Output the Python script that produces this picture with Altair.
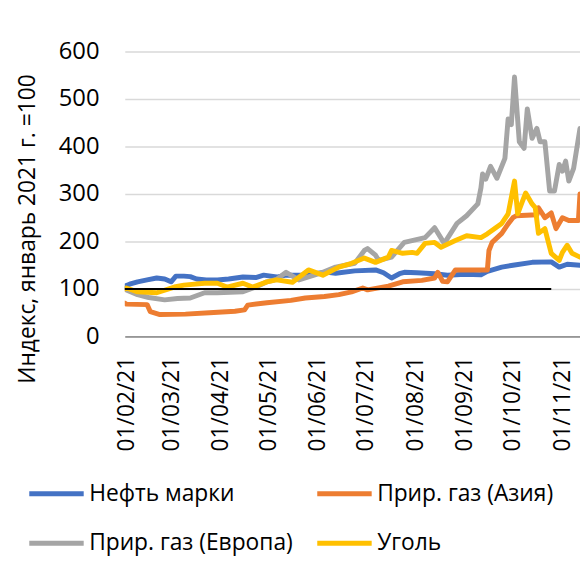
import altair as alt
import pandas as pd

series_names = ["Нефть марки", "Прир. газ (Азия)", "Прир. газ (Европа)", "Уголь"]
series_colors = ["#4472C4", "#ED7D31", "#A5A5A5", "#FFC000"]

oil_dates = ["2021-01-31", "2021-02-03", "2021-02-08", "2021-02-14", "2021-02-20", "2021-02-25",
             "2021-03-01", "2021-03-04", "2021-03-09", "2021-03-13", "2021-03-17", "2021-03-23",
             "2021-03-30", "2021-04-06", "2021-04-15", "2021-04-23", "2021-04-28", "2021-05-06",
             "2021-05-12", "2021-05-24", "2021-06-01", "2021-06-07", "2021-06-12", "2021-06-24",
             "2021-07-07", "2021-07-12", "2021-07-17", "2021-07-22", "2021-07-25", "2021-08-02",
             "2021-08-13", "2021-08-21", "2021-09-01", "2021-09-11", "2021-09-15", "2021-09-24",
             "2021-10-01", "2021-10-13", "2021-10-25", "2021-10-30", "2021-11-04", "2021-11-12"]
oil_values = [106, 110, 115, 119, 123, 121,
              115, 127, 127, 126, 121, 119,
              119, 121, 125, 124, 129, 125,
              129, 129, 133, 135, 133, 138,
              140, 134, 123, 132, 135, 134,
              132, 129, 131, 130, 137, 146,
              150, 156, 157, 146, 152, 150]

asia_dates = ["2021-01-31", "2021-02-01", "2021-02-14", "2021-02-16", "2021-02-22", "2021-03-10",
              "2021-03-25", "2021-04-10", "2021-04-16", "2021-04-18", "2021-04-30", "2021-05-15",
              "2021-05-24", "2021-06-05", "2021-06-14", "2021-06-22", "2021-06-29", "2021-07-02",
              "2021-07-15", "2021-07-24", "2021-08-05", "2021-08-13", "2021-08-15", "2021-08-18",
              "2021-08-21", "2021-08-26", "2021-09-15", "2021-09-16", "2021-09-18", "2021-09-24",
              "2021-09-28", "2021-10-01", "2021-10-03", "2021-10-16", "2021-10-17", "2021-10-21",
              "2021-10-25", "2021-10-28", "2021-11-01", "2021-11-05", "2021-11-11", "2021-11-12"]
asia_values = [70, 68, 67, 52, 46, 47,
               50, 53, 56, 66, 71, 76,
               81, 84, 88, 94, 102, 98,
               106, 115, 118, 123, 135, 116,
               115, 140, 140, 181, 198, 217,
               237, 250, 254, 256, 271, 250,
               260, 227, 250, 244, 244, 300]

europe_dates = ["2021-01-31", "2021-02-01", "2021-02-08", "2021-02-15", "2021-02-25", "2021-03-05",
                "2021-03-13", "2021-03-22", "2021-03-30", "2021-04-15", "2021-04-23", "2021-04-30",
                "2021-05-06", "2021-05-12", "2021-05-20", "2021-06-04", "2021-06-12", "2021-06-24",
                "2021-06-30", "2021-07-02", "2021-07-07", "2021-07-09", "2021-07-17", "2021-07-25",
                "2021-08-07", "2021-08-13", "2021-08-19", "2021-08-27", "2021-09-02", "2021-09-09",
                "2021-09-11", "2021-09-12", "2021-09-14", "2021-09-17", "2021-09-21", "2021-09-26",
                "2021-09-28", "2021-09-30", "2021-10-02", "2021-10-05", "2021-10-08", "2021-10-10",
                "2021-10-13", "2021-10-16", "2021-10-18", "2021-10-21", "2021-10-24", "2021-10-27",
                "2021-10-30", "2021-11-01", "2021-11-03", "2021-11-05", "2021-11-08", "2021-11-12"]
europe_values = [100, 98, 88, 82, 77, 80,
                 81, 92, 92, 94, 104, 115,
                 120, 135, 119, 135, 146, 154,
                 181, 185, 171, 160, 167, 198,
                 208, 229, 196, 238, 254, 279,
                 313, 342, 331, 358, 333, 375,
                 458, 446, 546, 410, 396, 479,
                 417, 438, 410, 410, 306, 306,
                 362, 348, 369, 327, 354, 438]

coal_dates = ["2021-01-31", "2021-02-01", "2021-02-08", "2021-02-20", "2021-03-03", "2021-03-09",
              "2021-03-22", "2021-03-30", "2021-04-05", "2021-04-15", "2021-04-21", "2021-04-30",
              "2021-05-06", "2021-05-16", "2021-05-26", "2021-06-04", "2021-06-14", "2021-06-22",
              "2021-06-30", "2021-07-07", "2021-07-15", "2021-07-17", "2021-07-24", "2021-07-30",
              "2021-08-02", "2021-08-07", "2021-08-13", "2021-08-17", "2021-08-26", "2021-09-02",
              "2021-09-11", "2021-09-15", "2021-09-24", "2021-09-28", "2021-10-02", "2021-10-04",
              "2021-10-07", "2021-10-09", "2021-10-13", "2021-10-15", "2021-10-17", "2021-10-21",
              "2021-10-25", "2021-10-30", "2021-11-01", "2021-11-04", "2021-11-07", "2021-11-12"]
coal_values = [100, 102, 94, 92, 104, 108,
               112, 112, 104, 112, 104, 115,
               119, 114, 140, 129, 146, 154,
               165, 156, 167, 181, 175, 177,
               175, 196, 198, 188, 202, 212,
               208, 216, 238, 258, 327, 258,
               285, 302, 279, 271, 217, 227,
               175, 160, 177, 192, 175, 167]

ref_start = ["2021-01-31"]
ref_end = ["2021-10-25"]
ref_value = [100]

month_ticks = [alt.DateTime(year=2021, month=m, date=1, utc=True) for m in range(2, 12)]
y_ticks = [0, 100, 200, 300, 400, 500, 600]

FONT = "Open Sans"

x_scale = alt.Scale(type="utc",
                    domain=[alt.DateTime(year=2021, month=1, date=31, utc=True),
                            alt.DateTime(year=2021, month=11, date=12, utc=True)])
y_scale = alt.Scale(domain=[0, 600])

x_axis = alt.Axis(values=month_ticks, format="%d/%m/%y", title=None, grid=False,
                  ticks=False, domain=True, domainColor="#595959", domainWidth=1,
                  labelAngle=270, labelAlign="right", labelBaseline="middle",
                  labelPadding=20, labelFontSize=23, labelColor="#000000", labelFont=FONT)
y_axis = alt.Axis(values=y_ticks, title="Индекс, январь 2021 г. =100", grid=True,
                  gridColor="#D9D9D9", gridWidth=1.5, domain=False, ticks=False,
                  labelFontSize=24, labelPadding=26, labelColor="#000000", labelFont=FONT,
                  titleFontSize=23, titleFont=FONT, titleFontWeight="normal", titleColor="#000000",
                  titleAngle=270, titleX=-98, titleY=179, titleAlign="center",
                  titleBaseline="middle")

legend = alt.Legend(title=None, orient="none", direction="horizontal", legendX=-99, legendY=417,
                    columns=2, symbolType="stroke", symbolSize=3025, symbolStrokeWidth=5,
                    labelFontSize=23, labelFont=FONT, labelColor="#000000", labelLimit=400,
                    columnPadding=14, rowPadding=8, labelOffset=3, padding=0)

color = alt.Color("series:N", scale=alt.Scale(domain=series_names, range=series_colors),
                  legend=legend)

layers = []
for name, d, v in [(series_names[0], oil_dates, oil_values),
                   (series_names[1], asia_dates, asia_values),
                   (series_names[2], europe_dates, europe_values),
                   (series_names[3], coal_dates, coal_values)]:
    df = pd.DataFrame({"date": d, "value": v, "series": name})
    layers.append(
        alt.Chart(df).mark_line(strokeWidth=5, strokeJoin="round", strokeCap="round", clip=True)
        .encode(x=alt.X("date:T", scale=x_scale, axis=x_axis),
                y=alt.Y("value:Q", scale=y_scale, axis=y_axis),
                color=color)
    )

ref_df = pd.DataFrame({"start": ref_start, "end": ref_end, "value": ref_value})
ref_rule = alt.Chart(ref_df).mark_rule(color="black", strokeWidth=2).encode(
    x=alt.X("start:T", scale=x_scale),
    x2="end:T",
    y=alt.Y("value:Q", scale=y_scale),
)

chart = alt.layer(*layers, ref_rule).properties(
    width=460, height=288,
    padding={"left": 118, "top": 41, "right": 0, "bottom": 222},
    autosize=alt.AutoSizeParams(type="none"),
    background="white",
).configure(font=FONT).configure_view(strokeWidth=0)

chart.save("out.html", embed_options={"renderer": "svg", "actions": False})
